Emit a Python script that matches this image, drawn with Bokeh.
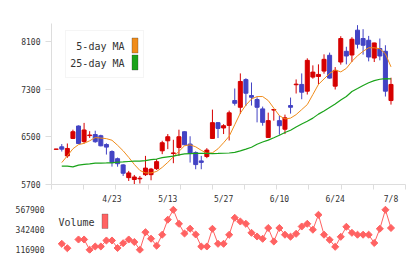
import numpy as np
from bokeh.plotting import figure
from bokeh.layouts import column
from bokeh.models import (Range1d, FixedTicker, NumeralTickFormatter, Label,
                          BoxAnnotation, ColumnDataSource, LinearAxis)
from bokeh.embed import file_html
from bokeh.resources import INLINE

nan = float("nan")

# Daily prices (one entry per trading day)
opens = [6290, 6332, 6180, 6472, 6681, 6420, 6520, 6538, 6518, 6371,
         6253, 6133, 6029, 5815, 5784, 5795, 5865, 5865, 5966, 6265,
         6433, 6220, 6320, 6585, 6378, 6236, 6096, 6169, 6472, 6737,
         6648, 6691, 7108, 6995, 7459, 7192, 7125, 6968, 6489, 6948,
         6771, 6627, 7024, 7373, 7378, 7265, 7501, 7512, 7602, 7867,
         7349, 7754, 7934, 7872, 8288, 8148, 8119, 7821, 7980, 7934,
         7108]
highs = [6295, 6378, 6388, 6619, 6690, 6733, 6594, 6602, 6535, 6391,
         6273, 6152, 6041, 5928, 5860, 5843, 6180, 5978, 6127, 6433,
         6546, 6450, 6619, 6590, 6509, 6256, 6180, 6310, 6956, 6745,
         6712, 6939, 7310, 7563, 7482, 7411, 7163, 7007, 6905, 6960,
         6855, 6872, 7158, 7462, 7563, 7816, 7698, 7715, 7883, 7912,
         7669, 8187, 8010, 8170, 8372, 8305, 8192, 8078, 8148, 8035,
         7491]
lows = [6290, 6253, 6147, 6462, 6380, 6386, 6481, 6400, 6340, 6202,
        6000, 5998, 5843, 5759, 5703, 5717, 5843, 5771, 5944, 6209,
        6293, 6057, 6180, 6360, 6068, 5956, 5956, 6142, 6465, 6479,
        6546, 6438, 7024, 6884, 7018, 7024, 6742, 6686, 6485, 6771,
        6535, 6546, 6889, 7226, 7130, 7209, 7474, 7378, 7558, 7475,
        7293, 7710, 7715, 7754, 7980, 7878, 7765, 7754, 7782, 7175,
        7040]
closes = [6295, 6293, 6304, 6585, 6388, 6614, 6530, 6417, 6349, 6327,
          6068, 6049, 5889, 5894, 5826, 5805, 5975, 5958, 6083, 6400,
          6501, 6230, 6501, 6366, 6223, 6034, 6071, 6277, 6737, 6641,
          6686, 6902, 7062, 7428, 7231, 7163, 6995, 6742, 6771, 6958,
          6686, 6818, 6995, 7383, 7248, 7782, 7585, 7546, 7799, 7484,
          7614, 8148, 7855, 8136, 8052, 8035, 7838, 8074, 7855, 7265,
          7378]

# Moving averages
ma5 = [nan, 6068, 6181, 6299, 6369, 6390, 6433, 6487, 6479, 6469,
       6442, 6358, 6265, 6155, 6037, 5936, 5894, 5894, 5919, 5987,
       6071, 6164, 6256, 6349, 6366, 6332, 6273, 6223, 6231, 6299,
       6400, 6509, 6703, 6897, 7032, 7133, 7175, 7175, 7108, 6981,
       6855, 6799, 6813, 6872, 6956, 7040, 7209, 7378, 7470, 7563,
       7622, 7588, 7647, 7765, 7858, 7934, 7993, 7993, 7976, 7892,
       7673]
ma25 = [nan, 6007, 6007, 5995, 6025, 6036, 6046, 6057, 6059, 6061,
        6064, 6074, 6079, 6086, 6091, 6093, 6100, 6116, 6127, 6150,
        6164, 6177, 6197, 6213, 6218, 6223, 6223, 6221, 6219, 6221,
        6224, 6228, 6240, 6265, 6294, 6324, 6374, 6412, 6445, 6484,
        6526, 6572, 6610, 6664, 6715, 6762, 6813, 6880, 6931, 6990,
        7049, 7116, 7175, 7260, 7310, 7361, 7406, 7442, 7465, 7474,
        7470]

# Daily volume
volume = [nan, 183400, 133800, nan, 231900, 231900, 115800, 153000, 153000, 220600,
          220600, 136100, 190200, 231900, 203700, 115800, 314200, 240900, 162000, 286000,
          455200, 566800, 408900, 299600, 353700, 288300, 153000, 153000, 352500, 183400,
          183400, 284900, 476600, 434900, 408900, 307400, 265700, 239800, 361600, 209400,
          361600, 286000, 263500, 296200, 378500, 408900, 342400, 510400, 286000, 228500,
          149600, 262300, 375100, 307400, 286000, 286000, 286000, 192400, 352500, 566800,
          361600]

date_ticks = [10, 20, 30, 40, 50, 60]
date_labels = ["4/23", "5/13", "5/27", "6/10", "6/24", "7/8"]
price_ticks = [5700, 6500, 7300, 8100]
volume_ticks = [116900, 342400, 567900]

UP = "#d60000"
DOWN = "#4343c4"
MA5_COLOR = "#f08c1a"
MA25_COLOR = "#1aa31a"
VOL_COLOR = "#ff6262"
AXIS_GRAY = "#dddddd"
TEXT = "#333333"
FONT = "DejaVu Sans Mono"

idx = np.arange(len(opens))
o = np.array(opens, float)
c = np.array(closes, float)
rising = c >= o
colors = [UP if r else DOWN for r in rising]

src = ColumnDataSource(dict(
    x=idx, top=np.maximum(o, c), bottom=np.minimum(o, c),
    high=highs, low=lows, color=colors,
))

x_start, x_end = -0.84, 62.6

p = figure(width=420, height=190, output_backend="svg", toolbar_location=None,
           x_range=Range1d(x_start, x_end), y_range=Range1d(5700, 8400),
           min_border_left=51, min_border_right=15, min_border_top=23,
           min_border_bottom=6)
p.outline_line_color = None
p.grid.visible = False
p.background_fill_color = "white"
p.border_fill_color = "white"

# price axis
ya = p.yaxis[0]
ya.ticker = FixedTicker(ticks=price_ticks)
ya.axis_line_color = AXIS_GRAY
ya.major_tick_line_color = AXIS_GRAY
ya.major_tick_out = 6
ya.major_tick_in = 0
ya.minor_tick_line_color = None
ya.major_label_standoff = 5
ya.major_label_text_font = FONT
ya.major_label_text_font_size = "8px"
ya.major_label_text_color = TEXT

# baseline with evenly spaced marks
xa = p.xaxis[0]
xa.ticker = FixedTicker(ticks=[],
                        minor_ticks=list(np.linspace(x_start + 0.001, x_end - 0.001, 12)))
xa.axis_line_color = AXIS_GRAY
xa.major_tick_line_color = None
xa.major_tick_out = 0
xa.major_tick_in = 0
xa.minor_tick_line_color = AXIS_GRAY
xa.minor_tick_out = 5
xa.minor_tick_in = 0
xa.major_label_standoff = 0

# candles
p.segment(x0="x", y0="low", x1="x", y1="high", color="color", line_width=1, source=src)
p.vbar(x="x", width=0.72, top="top", bottom="bottom", fill_color="color",
       line_color="color", line_width=1, source=src)

# moving averages
p.line(idx, ma5, line_color=MA5_COLOR, line_width=1)
p.line(idx, ma25, line_color=MA25_COLOR, line_width=1.2)

# header texts
p.add_layout(Label(x=7, y=13, x_units="canvas", y_units="canvas", text="8050 07/08 16:58 updated.",
                   text_font=FONT, text_font_size="10px", text_color=TEXT,
                   text_baseline="middle", text_align="left"))
p.add_layout(Label(x=410, y=13, x_units="canvas", y_units="canvas", text="(C)https://www.rizumu.net/",
                   text_font=FONT, text_font_size="10px", text_color=TEXT,
                   text_baseline="middle", text_align="right"))

# moving-average legend
p.add_layout(BoxAnnotation(left=65, right=143, top=30, bottom=77,
                           left_units="canvas", right_units="canvas",
                           top_units="canvas", bottom_units="canvas",
                           fill_color="white", fill_alpha=1.0,
                           line_color=AXIS_GRAY, line_width=1))
for ty, name, col in [(45.5, "5-day MA", MA5_COLOR), (62.5, "25-day MA", MA25_COLOR)]:
    p.add_layout(Label(x=124, y=ty, x_units="canvas", y_units="canvas", text=name,
                       text_font=FONT, text_font_size="10px", text_color=TEXT,
                       text_baseline="middle", text_align="right"))
    p.add_layout(BoxAnnotation(left=131.5, right=137.5, top=ty - 8, bottom=ty + 7,
                               left_units="canvas", right_units="canvas",
                               top_units="canvas", bottom_units="canvas",
                               fill_color=col, fill_alpha=1.0,
                               line_color="#333333", line_width=1))

# volume panel, with the date labels on top
v = figure(width=420, height=69, output_backend="svg", toolbar_location=None,
           x_range=p.x_range, y_range=Range1d(74000, 615300),
           x_axis_location=None,
           min_border_left=51, min_border_right=15, min_border_top=15,
           min_border_bottom=6)
v.outline_line_color = None
v.grid.visible = False

da = LinearAxis(ticker=FixedTicker(ticks=date_ticks),
                major_label_overrides={t: s for t, s in zip(date_ticks, date_labels)})
da.axis_line_color = None
da.major_tick_line_color = None
da.minor_tick_line_color = None
da.major_tick_out = 0
da.major_tick_in = 0
da.major_label_standoff = 2
da.major_label_text_font = FONT
da.major_label_text_font_size = "8px"
da.major_label_text_color = TEXT
v.add_layout(da, "above")

va = v.yaxis[0]
va.ticker = FixedTicker(ticks=volume_ticks)
va.formatter = NumeralTickFormatter(format="0")
va.axis_line_color = None
va.major_tick_line_color = None
va.minor_tick_line_color = None
va.major_tick_out = 0
va.major_tick_in = 0
va.major_label_standoff = 7
va.major_label_text_font = FONT
va.major_label_text_font_size = "8px"
va.major_label_text_color = TEXT

v.line(idx, volume, line_color=VOL_COLOR, line_width=1)
v.scatter(idx, volume, marker="square", angle=np.pi / 4, size=5,
          fill_color=VOL_COLOR, line_color=VOL_COLOR)

v.add_layout(Label(x=58, y=32, x_units="canvas", y_units="canvas", text="Volume",
                   text_font=FONT, text_font_size="10px", text_color=TEXT,
                   text_baseline="middle", text_align="left"))
v.add_layout(BoxAnnotation(left=101.5, right=107.5, top=23.5, bottom=38,
                           left_units="canvas", right_units="canvas",
                           top_units="canvas", bottom_units="canvas",
                           fill_color=VOL_COLOR, fill_alpha=1.0,
                           line_color="#444444", line_width=1))

layout = column(p, v, spacing=0)
open("out.html", "w").write(file_html(layout, INLINE))
